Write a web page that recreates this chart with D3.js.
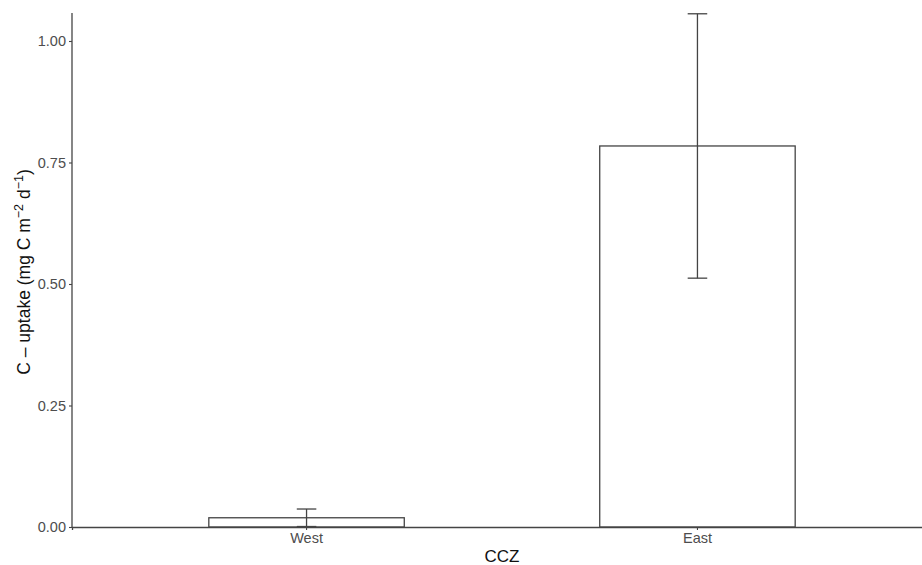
<!DOCTYPE html>
<html>
<head>
<meta charset="utf-8">
<script src="https://cdn.jsdelivr.net/npm/d3@7"></script>
<style>
  body { margin: 0; background: #fff; }
  text { font-family: "Liberation Sans", Arial, sans-serif; }
</style>
</head>
<body>
<div id="chart"></div>
<script>
// Data
const regions = ["West", "East"];
const uptake = [0.019, 0.784];
const uptakeErr = [0.018, 0.272];
const yTicks = [0, 0.25, 0.5, 0.75, 1.0];

const width = 922;
const height = 565;
const margin = { top: 13, right: -10, bottom: 38, left: 72 };

const svg = d3.select("#chart")
  .append("svg")
  .attr("width", width)
  .attr("height", height);

const x = d3.scaleBand()
  .domain(regions)
  .range([margin.left, width - margin.right])
  .paddingInner(0.5)
  .paddingOuter(0.35);

const y = d3.scaleLinear()
  .domain([0, 1.0576])
  .range([height - margin.bottom, margin.top]);

const data = regions.map((r, i) => ({ region: r, value: uptake[i], err: uptakeErr[i] }));

// Bars
svg.selectAll("rect.bar")
  .data(data)
  .enter()
  .append("rect")
  .attr("class", "bar")
  .attr("x", d => x(d.region))
  .attr("width", x.bandwidth())
  .attr("y", d => y(d.value))
  .attr("height", d => y(0) - y(d.value))
  .style("fill", "#fff")
  .style("stroke", "#444")
  .style("stroke-width", 1.3);

// Error bars
const capHalf = x.bandwidth() * 0.05;
const errG = svg.selectAll("g.err")
  .data(data)
  .enter()
  .append("g")
  .attr("class", "err")
  .style("stroke", "#444")
  .style("stroke-width", 1.3);

errG.append("line")
  .attr("x1", d => x(d.region) + x.bandwidth() / 2)
  .attr("x2", d => x(d.region) + x.bandwidth() / 2)
  .attr("y1", d => y(d.value - d.err))
  .attr("y2", d => y(d.value + d.err));

errG.append("line")
  .attr("x1", d => x(d.region) + x.bandwidth() / 2 - capHalf)
  .attr("x2", d => x(d.region) + x.bandwidth() / 2 + capHalf)
  .attr("y1", d => y(d.value + d.err))
  .attr("y2", d => y(d.value + d.err));

errG.append("line")
  .attr("x1", d => x(d.region) + x.bandwidth() / 2 - capHalf)
  .attr("x2", d => x(d.region) + x.bandwidth() / 2 + capHalf)
  .attr("y1", d => y(d.value - d.err))
  .attr("y2", d => y(d.value - d.err));

// Axes
const yAxis = svg.append("g")
  .attr("transform", `translate(${margin.left},0)`)
  .call(d3.axisLeft(y).tickValues(yTicks).tickFormat(d3.format(".2f")).tickSize(3).tickPadding(3));

const xAxis = svg.append("g")
  .attr("transform", `translate(0,${height - margin.bottom})`)
  .call(d3.axisBottom(x).tickSize(3).tickPadding(3));

[xAxis, yAxis].forEach(g => {
  g.select(".domain").attr("stroke", "#444").attr("stroke-width", 1.3);
  g.selectAll(".tick line").attr("stroke", "#444").attr("stroke-width", 1.1);
  g.selectAll(".tick text")
    .attr("fill", "#4d4d4d")
    .style("font-size", "14.5px")
    .style("font-family", "Liberation Sans, Arial, sans-serif");
});
// y-axis line without outer tick
yAxis.select(".domain").attr("d", `M0,${margin.top}V${height - margin.bottom}`);

// Axis titles
svg.append("text")
  .attr("x", (margin.left + width - margin.right) / 2)
  .attr("y", 562)
  .attr("text-anchor", "middle")
  .style("font-size", "17px")
  .attr("fill", "#111")
  .text("CCZ");

const yTitle = svg.append("text")
  .attr("transform", `translate(30, ${(margin.top + height - margin.bottom) / 2 + 2}) rotate(-90)`)
  .attr("text-anchor", "middle")
  .style("font-size", "17.5px")
  .attr("fill", "#111");

yTitle.append("tspan").text("C \u2013 uptake (mg C m");
yTitle.append("tspan").attr("dy", -7).style("font-size", "12.5px").text("\u22122");
yTitle.append("tspan").attr("dy", 7).text(" d");
yTitle.append("tspan").attr("dy", -7).style("font-size", "12.5px").text("\u22121");
yTitle.append("tspan").attr("dy", 7).text(")");
</script>
</body>
</html>
